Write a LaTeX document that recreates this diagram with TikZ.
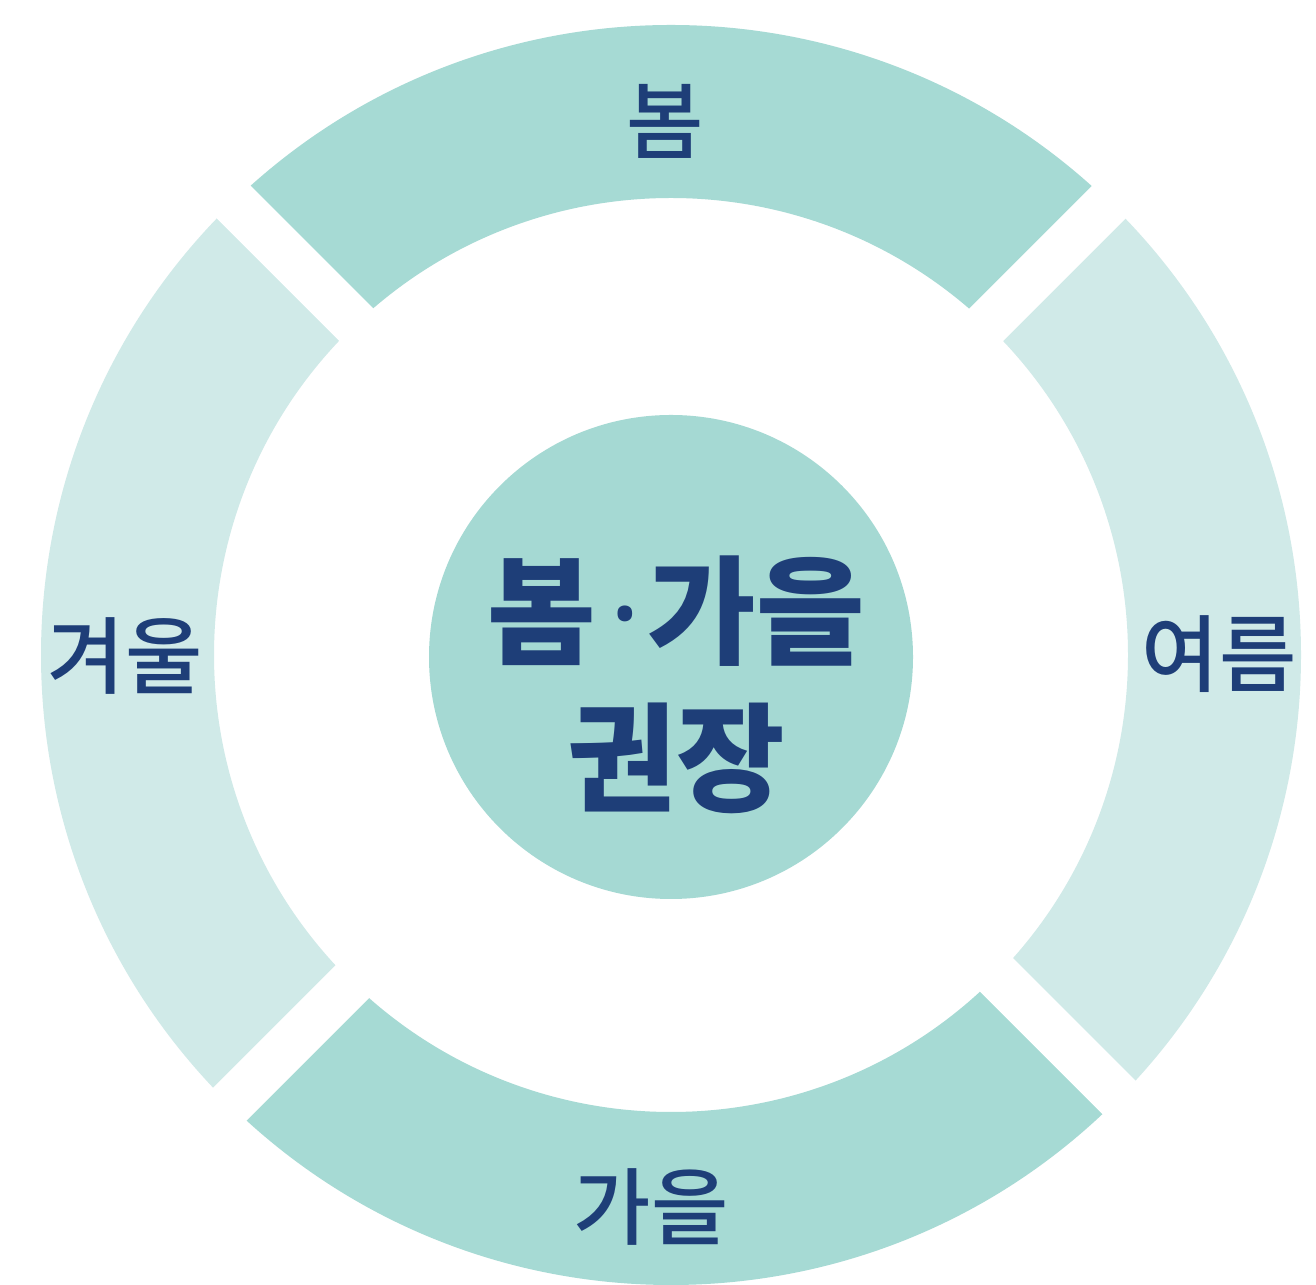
\documentclass[tikz,border=0pt]{standalone}
\usepackage{fontspec}
\newfontfamily\krfont{Noto Sans CJK KR}
\newfontfamily\krmed{Noto Sans CJK KR Medium}
\newfontfamily\dotfont{Noto Sans}
\definecolor{segdark}{HTML}{A6DAD4}
\definecolor{seglight}{HTML}{D0EAE8}
\definecolor{hubfill}{HTML}{A5D9D3}
\definecolor{navy}{HTML}{1E3E78}
\begin{document}
\begin{tikzpicture}[x=1pt,y=1pt,
  darkseg/.style={fill=segdark},
  lightseg/.style={fill=seglight},
  gapbar/.style={draw=white,line width=47pt},
  seglabel/.style={font=\krmed\fontsize{84}{84}\selectfont,text=navy,inner sep=0pt},
  hub/.style={circle,fill=hubfill,minimum size=484pt,inner sep=0pt},
  hubtext/.style={font=\krfont\bfseries\fontsize{118}{147}\selectfont,text=navy,align=center,inner sep=0pt}]
\useasboundingbox (0,0) rectangle (1316,1284);
\fill[white] (0,0) rectangle (1316,1284);
\coordinate (C) at (671,629);
% ring segments
\fill[darkseg] ([shift={(45:630)}]C) arc[start angle=45,end angle=135,radius=630]
  -- ([shift={(135:457)}]C) arc[start angle=135,end angle=45,radius=457] -- cycle;
\fill[lightseg] ([shift={(135:630)}]C) arc[start angle=135,end angle=225,radius=630]
  -- ([shift={(225:457)}]C) arc[start angle=225,end angle=135,radius=457] -- cycle;
\fill[darkseg] ([shift={(225:630)}]C) arc[start angle=225,end angle=315,radius=630]
  -- ([shift={(315:457)}]C) arc[start angle=315,end angle=225,radius=457] -- cycle;
\fill[lightseg] ([shift={(-45:630)}]C) arc[start angle=-45,end angle=45,radius=630]
  -- ([shift={(45:457)}]C) arc[start angle=45,end angle=-45,radius=457] -- cycle;
% gaps
\coordinate (gTLa) at (471,844.5);  \coordinate (gTLb) at (171,1144.5);
\coordinate (gTRa) at (871,844);    \coordinate (gTRb) at (1171,1144);
\coordinate (gBRa) at (871,434.5);  \coordinate (gBRb) at (1171,134.5);
\coordinate (gBLa) at (471,421);    \coordinate (gBLb) at (171,121);
\draw[gapbar] (gTLa) -- (gTLb);
\draw[gapbar] (gTRa) -- (gTRb);
\draw[gapbar] (gBRa) -- (gBRb);
\draw[gapbar] (gBLa) -- (gBLb);
% hub
\node[hub] (hub) at (671,627) {};
\node[hubtext] (hubtxt) at (676,599) {봄\hspace{14pt}{\dotfont\bfseries ·}\hspace{6pt}가을\\권장};
% labels
\node[seglabel] (spring) at (665,1163) {봄};
\node[seglabel] (summer) at (1219,630) {여름};
\node[seglabel] (autumn) at (651,77) {가을};
\node[seglabel] (winter) at (125,628) {겨울};
\end{tikzpicture}
\end{document}
